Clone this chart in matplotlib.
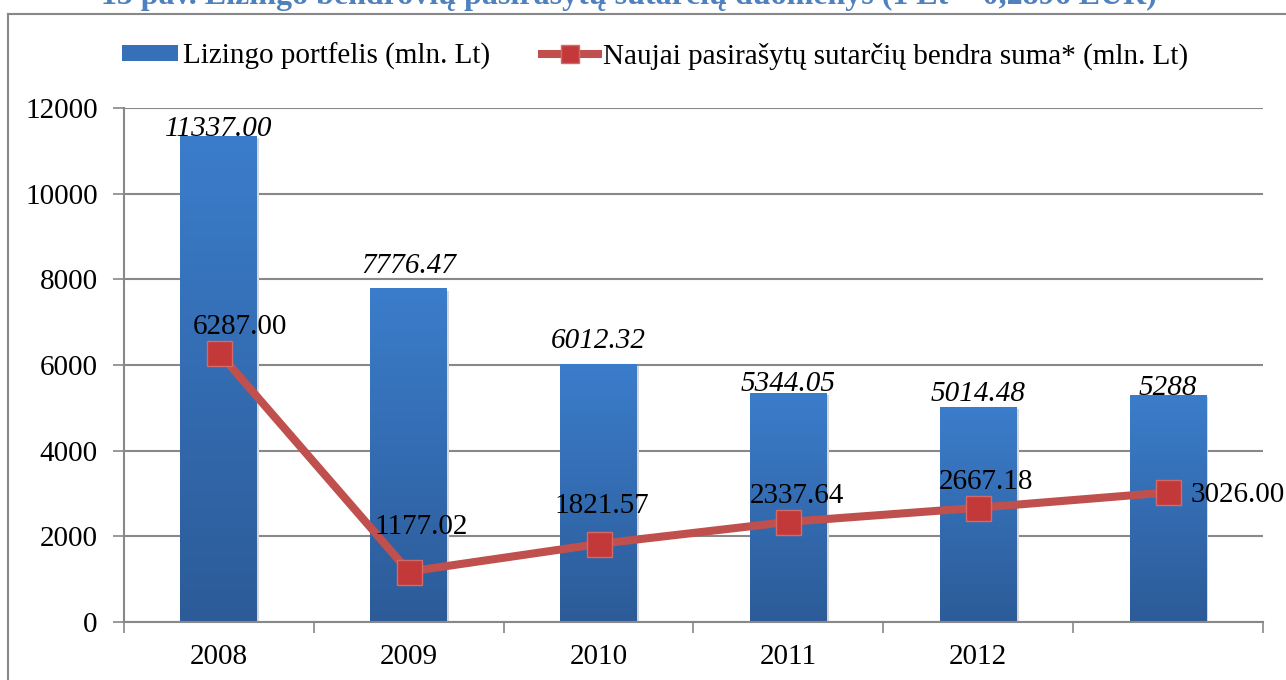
import matplotlib
matplotlib.use("Agg")
import matplotlib.pyplot as plt
import numpy as np
from matplotlib.lines import Line2D
from matplotlib.patches import Patch
from matplotlib.colors import LinearSegmentedColormap

years = ["2008", "2009", "2010", "2011", "2012", ""]
portfolio = [11337.00, 7776.47, 6012.32, 5344.05, 5014.48, 5288]
portfolio_labels = ["11337.00", "7776.47", "6012.32", "5344.05", "5014.48", "5288"]
new_contracts = [6287.00, 1177.02, 1821.57, 2337.64, 2667.18, 3026.00]
new_labels = ["6287.00", "1177.02", "1821.57", "2337.64", "2667.18", "3026.00"]

# label placement (pixels) as in the reference
bar_label_dy = [0, 16, 16, 2, 6, 0]
line_label_off = [(21, 19), (12, 38), (3, 31), (9, 19), (8, 19), (22, -10)]

plt.rcParams['font.family'] = ['Liberation Serif', 'DejaVu Serif']

W, H = 1286, 680
PX = 72 / 100  # points per pixel
fig = plt.figure(figsize=(W / 100, H / 100), dpi=100)
ax = fig.add_axes([124 / W, 1 - 622 / H, (1263 - 124) / W, (622 - 108) / H])

x = np.arange(len(years))
bw = 0.405
grad = np.linspace(0, 1, 256).reshape(-1, 1)
cmap = LinearSegmentedColormap.from_list("b", ["#2C5B98", "#3B7DCB"])
bars = ax.bar(x, portfolio, width=bw, color="none", zorder=2)
for b in bars:
    x0, w, h = b.get_x(), b.get_width(), b.get_height()
    ax.add_patch(plt.Rectangle((x0 + 0.01, 0), w, h - 40, color="#d8d8d8", zorder=1.5, lw=0))
    ax.imshow(grad, extent=(x0, x0 + w, 0, h), origin="lower", cmap=cmap,
              aspect="auto", zorder=2)

ax.plot(x, new_contracts, color="#C0504D", lw=5.8, zorder=3, solid_capstyle="butt")
ax.plot(x, new_contracts, ls="none", marker="s", markersize=18,
        markerfacecolor="#C3393A", markeredgecolor="#D26A68", markeredgewidth=1.0, zorder=4)

for xi, v, s, dy in zip(x, portfolio, portfolio_labels, bar_label_dy):
    ax.annotate(s, (xi, v), xytext=(0, dy * PX), textcoords="offset points",
                ha="center", va="baseline", fontsize=21, style="italic", zorder=5)

for i, (xi, v, s, (dx, dy)) in enumerate(zip(x, new_contracts, new_labels, line_label_off)):
    ha = "left" if i == len(x) - 1 else "center"
    ax.annotate(s, (xi, v), xytext=(dx * PX, dy * PX), textcoords="offset points",
                ha=ha, va="baseline", fontsize=21, zorder=5)

ax.set_xlim(-0.5, len(x) - 0.5)
ax.set_ylim(0, 12000)
ax.set_yticks(np.arange(0, 12001, 2000))
ax.tick_params(axis="y", labelsize=21, length=8, width=1.2, color="#888888", pad=11)
ax.set_xticks(x)
ax.set_xticklabels(years)
ax.set_xticks(np.arange(-0.5, len(x), 1), minor=True)
ax.tick_params(axis="x", which="major", length=0, labelsize=21, pad=16)
ax.tick_params(axis="x", which="minor", length=8, width=1.2, color="#888888")
ax.grid(axis="y", color="#888888", lw=1.5, zorder=0)
ax.set_axisbelow(True)
for s in ["top", "right"]:
    ax.spines[s].set_visible(False)
for s in ["left", "bottom"]:
    ax.spines[s].set_color("#888888")
    ax.spines[s].set_linewidth(1.5)
ax.spines["bottom"].set_zorder(6)

# legend
handles = [Patch(facecolor="#3670B8", edgecolor="none"),
           Line2D([], [], color="#C0504D", lw=5.8, marker="s", markersize=13,
                  markerfacecolor="#C3393A", markeredgecolor="#D26A68")]
fig.legend(handles, ["Lizingo portfelis (mln. Lt)",
                     "Naujai pasirašytų sutarčių bendra suma* (mln. Lt)"],
           loc="center", bbox_to_anchor=(655 / W, 1 - 56 / H), ncol=2, frameon=False,
           fontsize=21, handlelength=1.9, handletextpad=0.17, columnspacing=1.8,
           handleheight=0.5, borderpad=0.2)

# outer border (top & left)
fig.add_artist(Line2D([8 / W, 8 / W], [0, 1 - 14 / H], color="#888888", lw=1.5,
                      transform=fig.transFigure))
fig.add_artist(Line2D([8 / W, 1], [1 - 14 / H, 1 - 14 / H], color="#888888", lw=1.5,
                      transform=fig.transFigure))

# title, clipped at the top edge as in the reference
fig.text(629 / W, 1 - 4 / H,
         "15 pav. Lizingo bendrovių pasirašytų sutarčių duomenys (1 Lt = 0,2896 EUR)",
         ha="center", va="baseline", fontsize=23, fontweight="bold", color="#4F81BD")

fig.savefig("out.png", dpi=100)
